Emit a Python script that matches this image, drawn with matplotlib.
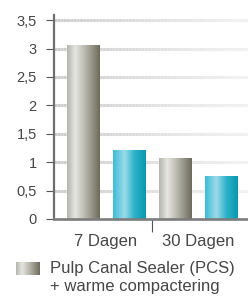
import numpy as np
import matplotlib.pyplot as plt
from matplotlib.colors import LinearSegmentedColormap

groups = ["7 Dagen", "30 Dagen"]
pcs_values = [3.07, 1.07]
other_values = [1.21, 0.76]
yticks = [0, 0.5, 1, 1.5, 2, 2.5, 3, 3.5]
ytick_labels = ["0", "0,5", "1", "1,5", "2", "2,5", "3", "3,5"]
legend_lines = ["Pulp Canal Sealer (PCS)", "+ warme compactering"]

plt.rcParams['font.family'] = ['Liberation Sans', 'DejaVu Sans']

grey_cmap = LinearSegmentedColormap.from_list(
    "greybar", [(0, "#b4b4ac"), (0.25, "#e6e6e2"), (0.55, "#b8b8ae"), (1, "#6c6a5a")])
cyan_cmap = LinearSegmentedColormap.from_list(
    "cyanbar", [(0, "#3cbcd6"), (0.35, "#9cdbea"), (0.65, "#2cb2ca"), (1, "#0898b0")])

txt_color = '#464646'

fig = plt.figure(figsize=(2.48, 3.0), dpi=100)
ax = fig.add_axes([53.5 / 248, 81 / 300, 194.5 / 248, 204 / 300])

x = np.arange(len(groups))
width = 0.348
off = 0.25

# gradient grid lines
n = 60
for yv in yticks[1:]:
    xs = np.linspace(-0.571, 1.543, n + 1)
    for i in range(n):
        t = i / n
        c = np.array([0.81, 0.81, 0.81]) * (1 - t) + np.array([0.95, 0.95, 0.95]) * t
        ax.plot([xs[i], xs[i + 1]], [yv, yv], color=c, lw=2.2,
                solid_capstyle='butt', zorder=1)


def grad_fill(bar, cmap):
    x0, y0 = bar.get_x(), bar.get_y()
    w, h = bar.get_width(), bar.get_height()
    grad = np.linspace(0, 1, 256).reshape(1, -1)
    im = ax.imshow(grad, cmap=cmap, aspect='auto',
                   extent=(x0, x0 + w, y0, y0 + h), zorder=3,
                   interpolation='bicubic')
    im.set_clip_path(bar)
    bar.set_facecolor('none')
    bar.set_edgecolor('none')


b1 = ax.bar(x - off, pcs_values, width, zorder=3)
b2 = ax.bar(x + off, other_values, width, zorder=3)
for b in b1:
    grad_fill(b, grey_cmap)
for b in b2:
    grad_fill(b, cyan_cmap)

ax.set_xlim(-0.571, 1.543)
ax.set_ylim(0, 3.59)

for s in ['top', 'right']:
    ax.spines[s].set_visible(False)
ax.spines['left'].set_color('#6e6e6e')
ax.spines['left'].set_linewidth(1.6)
ax.spines['bottom'].set_color('#7c7c7c')
ax.spines['bottom'].set_linewidth(1.9)
ax.spines['left'].set_zorder(5)
ax.spines['bottom'].set_zorder(5)

ax.set_yticks(yticks, ytick_labels)
ax.tick_params(axis='y', length=6, width=0.8, color='#555555', pad=6,
               labelsize=10.5, labelcolor=txt_color)
ax.set_xticks(x, groups)
ax.tick_params(axis='x', which='major', length=0, pad=11, labelsize=12,
               labelcolor=txt_color)
ax.set_xticks([0.5], minor=True)
ax.tick_params(axis='x', which='minor', length=9, width=0.8, color='#555555')

# legend
lax = fig.add_axes([16 / 248, 25 / 300, 24 / 248, 13 / 300])
lax.imshow(np.linspace(0, 1, 256).reshape(1, -1), cmap=grey_cmap,
           aspect='auto', interpolation='bicubic')
lax.axis('off')
fig.text(50 / 248, 31 / 300, legend_lines[0], fontsize=12, color=txt_color,
         va='center', ha='left')
fig.text(50 / 248, 13 / 300, legend_lines[1], fontsize=12, color=txt_color,
         va='center', ha='left')

fig.savefig("out.png", dpi=100)
